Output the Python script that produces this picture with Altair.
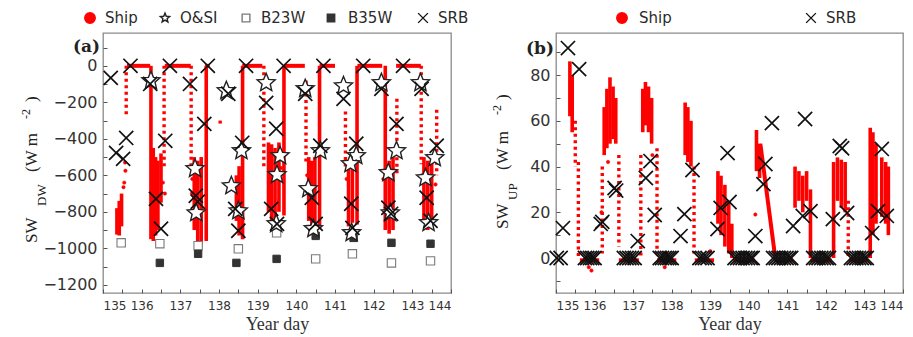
import altair as alt
import pandas as pd

# ---------------- shared axis values ----------------
X_LABELS = [135, 136, 137, 138, 139, 140, 141, 142, 143, 144]
X_TICKS = [135, 135.5, 136, 136.5, 137, 137.5, 138, 138.5, 139, 139.5, 140,
           140.5, 141, 141.5, 142, 142.5, 143, 143.5, 144]

# ---------------- panel (a): SW downward ----------------
A_Y_LABELS = [-1200, -1000, -800, -600, -400, -200, 0]
A_Y_TICKS = [-1200, -1100, -1000, -900, -800, -700, -600, -500, -400, -300,
             -200, -100, 0, 100]
A_SERIES = ["Ship", "O&SI", "B23W", "B35W", "SRB"]

A_SRB_X = [135.2, 135.71, 136.22, 136.73, 137.25, 137.71, 138.24, 138.7, 139.22,
           139.67, 140.23, 140.7, 141.22, 141.73, 142.2, 142.76, 143.24,
           135.34, 135.52, 135.6, 136.61, 137.62, 138.6, 139.48, 140.62, 141.55,
           142.59, 143.63,
           136.37, 136.5, 137.4, 137.45, 138.42, 138.5, 139.35, 139.5, 140.4,
           140.5, 141.42, 141.45, 142.38, 142.45, 143.37, 143.47]
A_SRB_Y = [-66, 0, -99, 0, -99, 0, -153, 0, -203, 0, -153, 0, -181, 0, -126, 0, -126,
           -477, -510, -395, -411, -318, -422, -345, -438, -427, -318, -438,
           -729, -893, -712, -745, -784, -904, -784, -866, -723, -866, -756, -888,
           -778, -811, -723, -849]

A_OSI_X = [136.24, 138.19, 139.22, 140.23, 141.22, 142.2, 143.21,
           138.58, 139.58, 140.62, 141.55, 142.59, 143.58,
           137.38, 137.41, 138.32, 138.5, 139.5, 139.48, 140.31, 140.44, 141.4,
           141.43, 142.38, 142.43, 143.34, 143.42]
A_OSI_Y = [-82, -137, -93, -126, -110, -93, -93,
           -466, -493, -466, -493, -466, -504,
           -564, -806, -658, -795, -597, -866, -674, -893, -537, -915, -586,
           -806, -614, -860]

A_B23_X = [135.47, 136.47, 137.46, 138.5, 139.49, 140.5, 141.45, 142.46, 143.47]
A_B23_Y = [-970, -975, -986, -1003, -915, -1058, -1030, -1080, -1069]
A_B35_X = [136.47, 137.46, 138.45, 139.49, 140.5, 141.48, 142.46, 143.47]
A_B35_Y = [-1080, -1030, -1080, -1058, -932, -943, -970, -975]

# ship: night plateaus (x1..x2 at the level below)
A_NIGHT_X1 = [135.62, 136.6, 137.64, 138.6, 139.68, 140.6, 141.58, 142.58]
A_NIGHT_X2 = [136.22, 137.27, 137.76, 139.12, 140.22, 141.0, 142.22, 143.22]
A_NIGHT_Y = [0, 0, 0, 0, 0, 0, 0, 0]
# ship: dense daytime columns
A_SOLID_X = [135.36, 135.42, 135.48, 136.24, 136.3, 136.36, 136.42, 136.5,
             137.36, 137.45, 137.54, 137.67, 138.45, 138.52, 138.61, 139.28,
             139.36, 139.45, 139.55, 139.68, 140.32, 140.4, 140.48, 140.6,
             141.35, 141.45, 141.57, 142.3, 142.4, 142.5, 143.3, 143.4, 143.5]
A_SOLID_TOP = [-780, -740, -700, 0, -450, -500, -520, -480, -500, -520, -500, 0,
               -600, -550, 0, -420, -430, -450, -420, 0, -500, -520, -500, 0,
               -550, -520, 0, 0, -520, -500, -500, -520, -500]
A_SOLID_BOT = [-925, -930, -880, -950, -960, -930, -900, -750, -900, -960, -980,
               -960, -850, -930, -950, -800, -850, -870, -800, -820, -850, -880,
               -870, -880, -880, -860, -870, -900, -920, -900, -850, -900, -880]
# ship: sparse (dotted) columns
A_DOT_X = [135.6, 136.58, 137.28, 138.03, 139.16, 140.25, 141.27, 142.6, 143.23, 143.63]
A_DOT_TOP = [0, 0, 0, -300, 0, -80, -250, -180, 0, -240]
A_DOT_BOT = [-280, -560, -560, -330, -560, -540, -560, -600, -540, -600]
# ship: single samples
A_SHIP_X = [135.55, 135.53, 135.57, 135.58, 136.55, 136.6, 137.31, 137.3,
            139.6, 140.28, 141.3, 142.25, 143.25, 143.6]
A_SHIP_Y = [-640, -665, -530, -575, -640, -700, -620, -700, -560, -600, -620,
            -620, -600, -650]

# ---------------- panel (b): SW upward ----------------
B_Y_LABELS = [0, 20, 40, 60, 80]
B_Y_TICKS = [-10, 0, 10, 20, 30, 40, 50, 60, 70, 80, 90]
B_SERIES = ["Ship", "SRB"]

B_SRB_X = [135.31, 135.6, 135.18, 136.16, 136.2, 136.52, 136.56, 137.12, 137.33,
           137.45, 137.56, 138.23, 138.33, 138.54, 139.19, 139.27, 139.45, 139.5,
           140.17, 140.38, 140.43, 140.6, 141.15, 141.4, 141.46, 141.6, 142.18,
           142.36, 142.42, 142.55, 143.2, 143.35, 143.45, 143.58]
B_SRB_Y = [91.8, 82.6, 13.1, 14.9, 15.8, 30.6, 29.5, 7.4, 35, 42.4, 18.8, 9.6,
           19.2, 38.5, 12.7, 21.9, 45.9, 24.5, 9.6, 32.3, 41.1, 59, 14, 18.4, 60.8,
           20.5, 17, 49, 48, 19.7, 10.9, 20.5, 47.7, 18.4]
# SRB night samples (all zero)
B_SRB0_X = [135.02, 135.12,
            135.75, 135.81, 135.88, 135.94, 136.0,
            136.76, 136.83, 136.9, 136.97, 137.04,
            137.69, 137.75, 137.82, 137.88, 137.94, 138.0,
            138.72, 138.79, 138.86, 138.93,
            139.63, 139.7, 139.77, 139.84, 139.91, 139.98, 140.05, 140.1,
            140.63, 140.7, 140.77, 140.84, 140.91, 140.98, 141.05, 141.1,
            141.67, 141.74, 141.81, 141.88, 141.95, 142.02, 142.08,
            142.65, 142.72, 142.79, 142.86, 142.93, 143.0, 143.06]
B_SRB0_Y = [0.0] * len(B_SRB0_X)

B_NIGHT_X1 = [135.62, 136.63, 137.62, 138.6, 139.6, 140.66, 141.6, 142.6]
B_NIGHT_X2 = [136.12, 137.15, 138.12, 139.1, 140.15, 141.15, 142.15, 143.1]
B_NIGHT_Y = [-1, -1, -1, -1, -1, -1, -1, -1]
B_SOLID_X = [135.36, 135.42, 136.25, 136.32, 136.4, 136.48, 136.55, 137.25, 137.32,
             137.4, 137.48, 138.35, 138.42, 138.5, 139.2, 139.28, 139.38, 139.48,
             139.56, 140.2, 140.28, 141.2, 141.3, 141.4, 141.5, 141.6, 142.2, 142.3,
             142.4, 142.5, 143.15, 143.22, 143.3, 143.45, 143.55, 143.62]
B_SOLID_TOP = [86, 80, 66, 74, 79, 75, 70, 74, 77, 75, 70, 68, 66, 60, 38, 36, 32,
               25, 15, 56, 50, 40, 38, 36, 38, 30, 42, 44, 43, 42, 57, 55, 50, 44,
               42, 40]
B_SOLID_BOT = [62, 55, 45, 48, 50, 52, 50, 55, 58, 55, 50, 45, 42, 40, 15, 10, 5,
               2, 0, 38, 35, 22, 25, 20, 25, 0, 0, 25, 22, 20, 0, 10, 15, 18, 15, 10]
B_DOT_X = [135.5, 135.58, 136.2, 136.63, 137.2, 137.62, 138.58, 142.58]
B_DOT_TOP = [60, 42, 40, 45, 45, 48, 40, 25]
B_DOT_BOT = [40, 0, 2, 5, 0, 2, 2, 0]
B_DIAG_X1 = [140.3]
B_DIAG_X2 = [140.68]
B_DIAG_Y1 = [50]
B_DIAG_Y2 = [1]
B_SHIP_X = [135.85, 135.92, 137.82, 136.18, 140.17, 139.0, 136.35, 137.5]
B_SHIP_Y = [-4, -5.5, -4, 20, 19, 3, 42, 45]

# ---------------- styling ----------------
STAR = ("M0,-1L0.265,-0.364L0.951,-0.309L0.428,0.139L0.588,0.809L0,0.45"
        "L-0.588,0.809L-0.428,0.139L-0.951,-0.309L-0.265,-0.364Z")
XPATH = "M-1,-1L1,1M-1,1L1,-1"
STYLE = {
    "Ship": dict(shape="circle", fill="#ff0000", stroke="#ff0000", size=12, sw=0.5, order=0, lsize=110),
    "B23W": dict(shape="square", fill="white", stroke="#7a7a7a", size=70, sw=1.1, order=1, lsize=60),
    "B35W": dict(shape="square", fill="#333333", stroke="#333333", size=55, sw=1.0, order=2, lsize=55),
    "O&SI": dict(shape=STAR, fill="white", stroke="#222222", size=360, sw=1.4, order=3, lsize=95),
    "SRB": dict(shape=XPATH, fill="transparent", stroke="#111111", size=200, sw=1.7, order=4, lsize=95),
}
DUMMY = pd.DataFrame({"k": [0]})
H = 260
LEG_Y = -15


def pts_frame(groups):
    rows = []
    for name, xs, ys in groups:
        for x, y in zip(xs, ys):
            rows.append({"day": x, "val": y, "series": name, "ord": STYLE[name]["order"]})
    return pd.DataFrame(rows)


def sc(series, key, ordinal=False):
    if ordinal:
        return alt.Scale(type="ordinal", domain=series, range=[STYLE[s][key] for s in series])
    return alt.Scale(domain=series, range=[STYLE[s][key] for s in series])


def key_layers(entries):
    out = []
    for name, sx, lx in entries:
        st = STYLE[name]
        out.append(alt.Chart(DUMMY).mark_point(
            shape=st["shape"], fill=st["fill"], stroke=st["stroke"], filled=False,
            size=st["lsize"], strokeWidth=1.4, opacity=1).encode(
            x=alt.value(sx), y=alt.value(LEG_Y)))
        out.append(alt.Chart(DUMMY).mark_text(
            text=name, font="DejaVu Sans", fontSize=15, align="left",
            baseline="middle", color="#2a2a2a").encode(
            x=alt.value(lx), y=alt.value(LEG_Y)))
    return out


def panel(W, ydom, ylabels, yticks, series, groups, night, solid, dotted,
          diag, keys, tag, title_parts):
    xscale = alt.Scale(domain=[135, 144], nice=False, zero=False)
    yscale = alt.Scale(domain=ydom, nice=False, zero=False)
    lab_x = alt.Axis(orient="bottom", values=X_LABELS, format="d", ticks=False,
                     domain=False, grid=False, labelFont="DejaVu Sans",
                     labelFontSize=12, labelColor="#333", labelPadding=7,
                     title="Year day", titleFont="Liberation Serif",
                     titleFontSize=18, titleFontWeight="normal",
                     titleColor="#333", titlePadding=4)
    lab_y = alt.Axis(orient="left", values=ylabels, format="d", ticks=False,
                     domain=False, grid=False, labelFont="DejaVu Sans",
                     labelFontSize=16, labelColor="#333", labelPadding=6,
                     title=None)
    tick_x = alt.Axis(orient="top", offset=-H, values=X_TICKS, labels=False,
                      domain=False, grid=False, tickSize=4, tickColor="#555",
                      title=None)
    tick_y = alt.Axis(orient="right", offset=-W, values=yticks, labels=False,
                      domain=False, grid=False, tickSize=4, tickColor="#555",
                      title=None)

    nx1, nx2, ny = night
    night_df = pd.DataFrame({"x1": nx1, "x2": nx2, "y": ny})
    l_night = alt.Chart(night_df).mark_rule(color="#ff0000", strokeWidth=4).encode(
        x=alt.X("x1:Q", scale=xscale, axis=lab_x), x2="x2:Q",
        y=alt.Y("y:Q", scale=yscale, axis=lab_y))

    sx, st, sb = solid
    solid_df = pd.DataFrame({"x": sx, "t": st, "b": sb})
    l_solid = alt.Chart(solid_df).mark_rule(color="#ff0000", strokeWidth=3.6).encode(
        x=alt.X("x:Q", scale=xscale, axis=None),
        y=alt.Y("t:Q", scale=yscale, axis=None), y2="b:Q")

    dx, dt, db = dotted
    dot_df = pd.DataFrame({"x": dx, "t": dt, "b": db})
    l_dot = alt.Chart(dot_df).mark_rule(color="#ff0000", strokeWidth=3.4,
                                        strokeDash=[3, 3.5]).encode(
        x=alt.X("x:Q", scale=xscale, axis=None),
        y=alt.Y("t:Q", scale=yscale, axis=None), y2="b:Q")

    layers = [l_night, l_solid, l_dot]
    if diag is not None:
        gx1, gx2, gy1, gy2 = diag
        diag_df = pd.DataFrame({"x1": gx1, "x2": gx2, "y1": gy1, "y2": gy2})
        layers.append(alt.Chart(diag_df).mark_rule(color="#ff0000", strokeWidth=4).encode(
            x=alt.X("x1:Q", scale=xscale, axis=None), x2="x2:Q",
            y=alt.Y("y1:Q", scale=yscale, axis=None), y2="y2:Q"))

    l_pts = alt.Chart(pts_frame(groups)).mark_point(opacity=1).encode(
        x=alt.X("day:Q", scale=xscale, axis=tick_x),
        y=alt.Y("val:Q", scale=yscale, axis=tick_y),
        shape=alt.Shape("series:N", scale=sc(series, "shape"), legend=None),
        fill=alt.Fill("series:N", scale=sc(series, "fill"), legend=None),
        stroke=alt.Stroke("series:N", scale=sc(series, "stroke"), legend=None),
        size=alt.Size("series:N", scale=sc(series, "size", True), legend=None),
        strokeWidth=alt.StrokeWidth("series:N", scale=sc(series, "sw", True), legend=None),
        order=alt.Order("ord:Q"),
    )
    layers.append(l_pts)
    layers.extend(key_layers(keys))

    tx, ty, ttext = tag
    layers.append(alt.Chart(DUMMY).mark_text(
        text=ttext, font="DejaVu Serif", fontSize=17, fontWeight="bold",
        align="right", baseline="alphabetic", color="#222").encode(
        x=alt.value(tx), y=alt.value(ty)))
    for txt, px, py, fs in title_parts:
        layers.append(alt.Chart(DUMMY).mark_text(
            text=txt, font="Liberation Serif", fontSize=fs, angle=270,
            align="left", baseline="alphabetic", color="#222").encode(
            x=alt.value(px), y=alt.value(py)))

    return alt.layer(*layers).resolve_axis(x="independent", y="independent").properties(
        width=W, height=H)


panel_a = panel(
    348, [-1245, 180], A_Y_LABELS, A_Y_TICKS, A_SERIES,
    [("Ship", A_SHIP_X, A_SHIP_Y), ("B23W", A_B23_X, A_B23_Y),
     ("B35W", A_B35_X, A_B35_Y), ("O&SI", A_OSI_X, A_OSI_Y),
     ("SRB", A_SRB_X, A_SRB_Y)],
    (A_NIGHT_X1, A_NIGHT_X2, A_NIGHT_Y),
    (A_SOLID_X, A_SOLID_TOP, A_SOLID_BOT),
    (A_DOT_X, A_DOT_TOP, A_DOT_BOT),
    None,
    [("Ship", -13, 2), ("O&SI", 62, 77), ("B23W", 143, 158), ("B35W", 228, 245),
     ("SRB", 320, 335)],
    (-3, 19, "(a)"),
    [("SW", -66, 210, 17), ("DW", -57, 173, 13), ("(W  m", -66, 139, 17),
     ("-2", -73, 86, 12), (")", -66, 69, 17)],
)

panel_b = panel(
    347, [-15.3, 98.4], B_Y_LABELS, B_Y_TICKS, B_SERIES,
    [("Ship", B_SHIP_X, B_SHIP_Y), ("SRB", B_SRB0_X, B_SRB0_Y),
     ("SRB", B_SRB_X, B_SRB_Y)],
    (B_NIGHT_X1, B_NIGHT_X2, B_NIGHT_Y),
    (B_SOLID_X, B_SOLID_TOP, B_SOLID_BOT),
    (B_DOT_X, B_DOT_TOP, B_DOT_BOT),
    (B_DIAG_X1, B_DIAG_X2, B_DIAG_Y1, B_DIAG_Y2),
    [("Ship", 66, 83), ("SRB", 255, 270)],
    (-2, 21, "(b)"),
    [("SW", -48, 196, 17), ("UP", -39, 167, 13), ("(W  m", -48, 137, 17),
     ("-2", -55, 82, 12), (")", -48, 67, 17)],
)

chart = alt.hconcat(panel_a, panel_b, spacing=105, bounds="flush").resolve_scale(
    shape="independent", fill="independent", stroke="independent",
    size="independent", strokeWidth="independent",
).configure_view(stroke="#8a8a8a", strokeWidth=1.3).properties(
    padding={"left": 19, "top": 9, "right": 5, "bottom": 3},
    background="white",
)

chart.save("out.html", embed_options={"renderer": "svg", "actions": False})
